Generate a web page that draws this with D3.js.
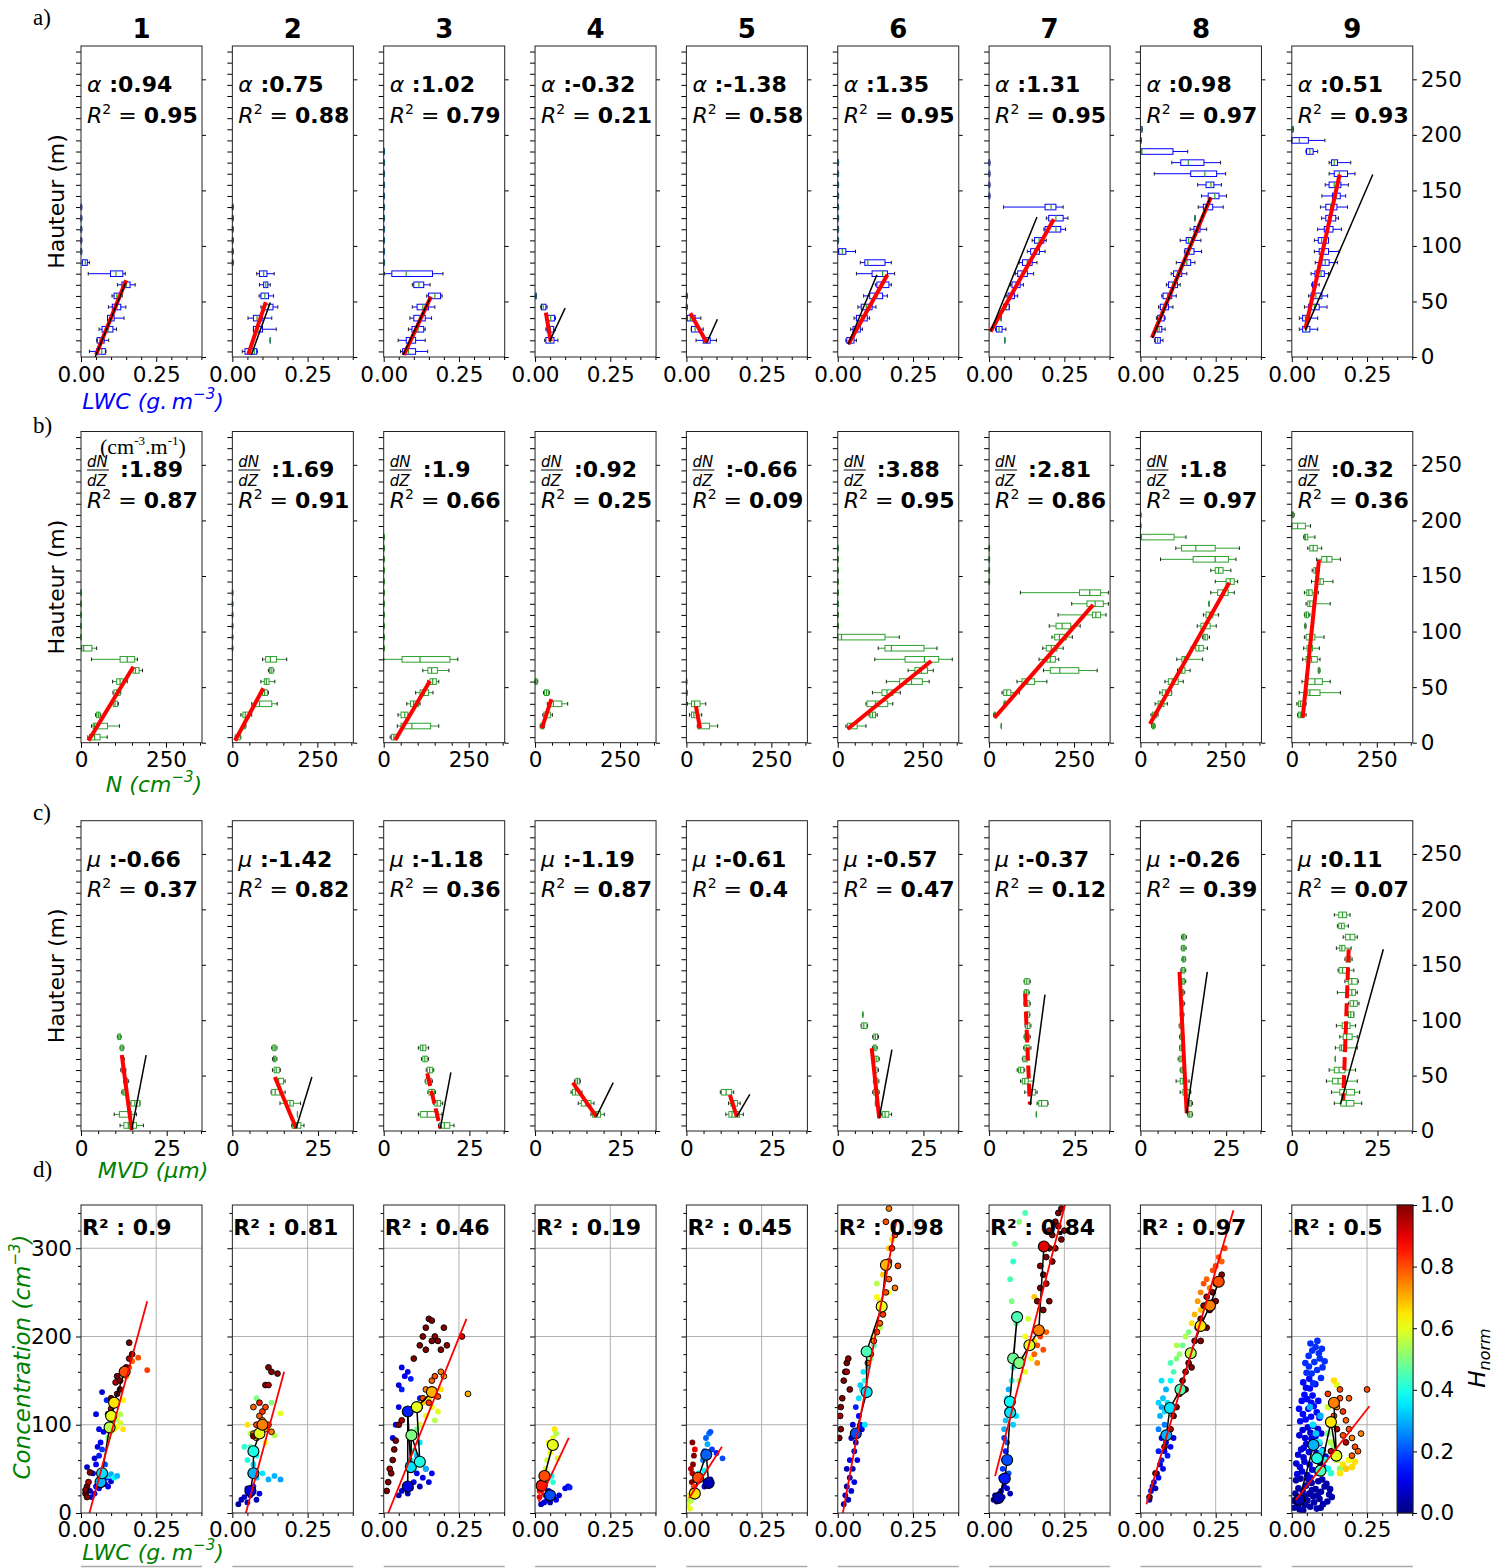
<!DOCTYPE html>
<html><head><meta charset="utf-8">
<script src="https://cdn.jsdelivr.net/npm/d3@7"></script>
<style>body{margin:0;background:#fff}</style>
</head><body><svg id="c" width="1497" height="1568" xmlns="http://www.w3.org/2000/svg"></svg>
<script>
// ---------------- DATA ----------------
const panelLabels = ["1","2","3","4","5","6","7","8","9"];
const lwcAlpha = [0.94,0.75,1.02,-0.32,-1.38,1.35,1.31,0.98,0.51];
const lwcR2 = [0.95,0.88,0.79,0.21,0.58,0.95,0.95,0.97,0.93];
const nSlope = [1.89,1.69,1.9,0.92,-0.66,3.88,2.81,1.8,0.32];
const nR2 = [0.87,0.91,0.66,0.25,0.09,0.95,0.86,0.97,0.36];
const mvdMu = [-0.66,-1.42,-1.18,-1.19,-0.61,-0.57,-0.37,-0.26,0.11];
const mvdR2 = [0.37,0.82,0.36,0.87,0.4,0.47,0.12,0.39,0.07];
const scatR2 = [0.9,0.81,0.46,0.19,0.45,0.98,0.84,0.97,0.5];
const heightTicks = [0,50,100,150,200,250];
const boxPositions = [5,15,25,35,45,55,65,75,85,95,105,115,125,135,145,155,165,175,185,195,205,215,225,235,245,255,265,275];
const lwcTicks = [0,0.25], nTicks = [0,250], mvdTicks = [0,25], concTicks = [0,100,200,300];
const cbTicks = [0,0.2,0.4,0.6,0.8,1.0];

// boxes: [height, whiskerLow, q1, median, q3, whiskerHigh]
const lwcBoxes = [
 [[5,0.028,0.052,0.069,0.081,0.083],[15,0.052,0.054,0.063,0.077,0.092],[25,0.06,0.07,0.09,0.106,0.118],[35,0.088,0.088,0.1,0.11,0.143],[45,0.091,0.104,0.119,0.132,0.149],[55,0.103,0.11,0.119,0.13,0.137],[65,0.121,0.136,0.15,0.163,0.18],[75,0.024,0.098,0.116,0.139,0.147],[85,0.004,0.004,0.014,0.021,0.028],[95,0,0,0.001,0.002,0.003],[105,0,0,0.001,0.002,0.003],[115,0,0,0.001,0.002,0.003],[125,0,0,0.001,0.002,0.003],[135,0,0,0.001,0.002,0.003]],
 [[5,0.033,0.042,0.073,0.081,0.083],[15,0.126,0.126,0.126,0.126,0.126],[25,0.07,0.07,0.085,0.1,0.146],[35,0.052,0.07,0.082,0.099,0.131],[45,0.095,0.106,0.12,0.135,0.151],[55,0.089,0.095,0.108,0.12,0.137],[65,0.09,0.104,0.111,0.118,0.126],[75,0.081,0.09,0.104,0.115,0.139],[85,0,0,0.001,0.002,0.003],[95,0,0,0.001,0.002,0.003],[105,0,0,0.001,0.002,0.003],[115,0,0,0.001,0.002,0.003],[125,0,0,0.001,0.002,0.003],[135,0,0,0.001,0.002,0.003]],
 [[5,0.056,0.063,0.082,0.106,0.146],[15,0.048,0.075,0.09,0.106,0.138],[25,0.082,0.094,0.114,0.133,0.138],[35,0.087,0.1,0.119,0.138,0.159],[45,0.095,0.111,0.13,0.149,0.17],[55,0.143,0.149,0.17,0.189,0.194],[65,0.095,0.1,0.117,0.133,0.154],[75,0.003,0.027,0.075,0.162,0.197],[85,0,0,0.001,0.002,0.003],[95,0,0,0.001,0.002,0.003],[105,0,0,0.001,0.002,0.003],[115,0,0,0.001,0.002,0.003],[125,0,0,0.001,0.002,0.003],[135,0,0,0.001,0.002,0.003],[145,0,0,0.001,0.002,0.003],[155,0,0,0.001,0.002,0.003],[165,0,0,0.001,0.002,0.003],[175,0,0,0.001,0.002,0.003],[185,0,0,0.001,0.002,0.003]],
 [[15,0.032,0.036,0.051,0.063,0.076],[25,0.036,0.04,0.051,0.062,0.068],[35,0.036,0.041,0.052,0.065,0.068],[45,0.019,0.021,0.027,0.036,0.04],[55,0.001,0.002,0.003,0.004,0.005]],
 [[15,0.032,0.056,0.068,0.079,0.1],[25,0.016,0.017,0.029,0.041,0.056],[35,0,0.003,0.013,0.029,0.048],[45,0,0,0.001,0.002,0.003],[55,0,0,0.001,0.002,0.003]],
 [[15,0.027,0.03,0.043,0.054,0.062],[25,0.043,0.051,0.062,0.075,0.082],[35,0.054,0.062,0.079,0.098,0.106],[45,0.067,0.078,0.095,0.114,0.127],[55,0.086,0.106,0.13,0.149,0.165],[65,0.125,0.13,0.149,0.17,0.178],[75,0.062,0.114,0.149,0.165,0.189],[85,0.075,0.09,0.1,0.157,0.178],[95,0.003,0.003,0.015,0.027,0.059],[105,0,0,0.001,0.002,0.003],[115,0,0,0.001,0.002,0.003],[125,0,0,0.001,0.002,0.003],[135,0,0,0.001,0.002,0.003],[145,0,0,0.001,0.002,0.003],[155,0,0,0.001,0.002,0.003],[165,0,0,0.001,0.002,0.003],[175,0,0,0.001,0.002,0.003]],
 [[15,0.052,0.052,0.052,0.052,0.052],[25,0.021,0.024,0.033,0.043,0.056],[35,0.04,0.04,0.04,0.04,0.04],[45,0.048,0.048,0.056,0.067,0.067],[55,0.056,0.063,0.072,0.084,0.095],[65,0.071,0.076,0.09,0.103,0.114],[75,0.087,0.095,0.11,0.127,0.148],[85,0.1,0.111,0.127,0.143,0.159],[95,0.127,0.138,0.152,0.167,0.186],[105,0.143,0.151,0.166,0.182,0.19],[115,0.182,0.186,0.222,0.238,0.254],[125,0.19,0.198,0.222,0.246,0.262],[135,0.048,0.186,0.206,0.222,0.246],[145,0,0,0.001,0.002,0.003],[155,0,0,0.001,0.002,0.003],[165,0,0,0.001,0.002,0.003],[175,0,0,0.001,0.002,0.003]],
 [[15,0.047,0.049,0.057,0.066,0.075],[25,0.049,0.055,0.062,0.071,0.082],[35,0.053,0.057,0.068,0.079,0.082],[45,0.06,0.066,0.078,0.093,0.108],[55,0.071,0.075,0.09,0.104,0.119],[65,0.086,0.093,0.108,0.123,0.132],[75,0.102,0.11,0.123,0.137,0.154],[85,0.119,0.143,0.154,0.167,0.181],[95,0.146,0.148,0.163,0.178,0.203],[105,0.132,0.152,0.16,0.17,0.201],[115,0.165,0.178,0.187,0.198,0.22],[125,0.181,0.181,0.181,0.181,0.181],[135,0.192,0.209,0.222,0.24,0.275],[145,0.203,0.225,0.247,0.261,0.286],[155,0.19,0.218,0.234,0.244,0.269],[165,0.046,0.167,0.214,0.253,0.283],[175,0.104,0.134,0.159,0.211,0.266],[185,0,0.002,0.005,0.108,0.157],[195,0,0,0.001,0.002,0.003],[205,0.002,0.003,0.004,0.005,0.006]],
 [[25,0.025,0.036,0.047,0.06,0.086],[35,0.025,0.036,0.045,0.058,0.086],[45,0.042,0.056,0.075,0.091,0.117],[55,0.056,0.064,0.08,0.1,0.119],[65,0.066,0.069,0.075,0.08,0.091],[75,0.064,0.077,0.097,0.108,0.122],[85,0.078,0.1,0.111,0.124,0.152],[95,0.075,0.091,0.102,0.122,0.157],[105,0.075,0.088,0.099,0.122,0.122],[115,0.086,0.108,0.122,0.137,0.165],[125,0.099,0.113,0.124,0.146,0.155],[135,0.095,0.113,0.129,0.15,0.185],[145,0.1,0.135,0.148,0.161,0.179],[155,0.111,0.124,0.141,0.163,0.188],[165,0.124,0.141,0.158,0.185,0.21],[175,0.124,0.132,0.141,0.152,0.196],[185,0.047,0.049,0.06,0.071,0.086],[195,0,0,0.025,0.055,0.11],[205,0.001,0.002,0.003,0.004,0.005]]
];
const nBoxes = [
 [[5,20,25,40,56,77],[15,31,36,40,78,113],[25,43,46,51,56,58],[35,90,95,100,107,110],[45,94,97,105,115,117],[55,93,105,115,124,136],[65,146,153,160,171,181],[75,31,115,136,158,166],[85,2,2,8,32,46],[95,0,0,0.5,1,1.5],[105,0,0,0.5,1,1.5],[115,0,0,0.5,1,1.5],[125,0,0,0.5,1,1.5],[135,0,0,0.5,1,1.5]],
 [[5,8,10,14,23,25],[15,30,32,35,38,40],[25,25,31,38,51,57],[35,57,67,80,116,132],[45,86,89,95,103,106],[55,84,94,100,108,125],[65,106,109,114,120,122],[75,89,98,112,130,160],[85,0,0,0.5,1,1.5],[95,0,0,0.5,1,1.5],[105,0,0,0.5,1,1.5],[115,0,0,0.5,1,1.5],[125,0,0,0.5,1,1.5],[135,0,0,0.5,1,1.5]],
 [[5,19,23,30,37,42],[15,40,51,83,138,162],[25,42,51,62,71,74],[35,68,79,88,102,107],[45,94,107,119,132,145],[55,130,136,144,155,162],[65,115,130,141,158,192],[75,0,54,107,195,218],[85,0,0,0.5,1,1.5],[95,0,0,0.5,1,1.5],[105,0,0,0.5,1,1.5],[115,0,0,0.5,1,1.5],[125,0,0,0.5,1,1.5],[135,0,0,0.5,1,1.5],[145,0,0,0.5,1,1.5],[155,0,0,0.5,1,1.5],[165,0,0,0.5,1,1.5],[175,0,0,0.5,1,1.5],[185,0,0,0.5,1,1.5]],
 [[15,15,17,20,26,28],[25,23,26,33,45,51],[35,36,45,54,79,96],[45,25,28,34,40,42],[55,0,1,3,6,8]],
 [[15,32,34,40,68,92],[25,9,15,22,32,45],[35,3,15,24,40,57],[45,0,0.5,1,2,3],[55,0,0,0.5,1,1.5]],
 [[15,24,29,37,57,83],[25,92,95,102,111,116],[35,83,86,111,147,162],[45,102,130,145,162,184],[55,143,182,217,249,269],[65,207,227,246,264,281],[75,109,198,255,297,337],[85,119,139,158,254,292],[95,0,0,11,139,181],[105,0,0,0.5,1,1.5],[115,0,0,0.5,1,1.5],[125,0,0,0.5,1,1.5],[135,0,0,0.5,1,1.5],[145,0,0,0.5,1,1.5],[155,0,0,0.5,1,1.5],[165,0,0,0.5,1,1.5],[175,0,0,0.5,1,1.5]],
 [[15,36,36,36,36,36],[25,13,15,17,19,21],[35,44,44,46,48,48],[45,38,43,52,64,89],[55,82,97,114,134,170],[65,160,180,208,264,318],[75,147,170,180,195,205],[85,158,168,183,200,218],[95,185,193,207,227,245],[105,177,197,215,240,268],[115,203,304,314,328,344],[125,243,288,312,336,351],[135,92,266,296,328,351],[145,0,0,0.5,1,1.5],[155,0,0,0.5,1,1.5],[165,0,0,0.5,1,1.5],[175,0,0,0.5,1,1.5]],
 [[15,33,35,38,41,43],[25,31,35,41,48,52],[35,43,52,59,69,79],[45,57,64,74,91,92],[55,72,82,94,111,126],[65,109,114,122,131,146],[75,107,122,129,136,183],[85,149,163,172,185,197],[95,183,185,190,197,203],[105,167,178,190,205,223],[115,185,193,203,213,230],[125,202,202,202,202,202],[135,207,227,243,258,276],[145,220,252,264,276,286],[155,207,220,230,243,266],[165,59,155,220,259,281],[175,104,121,163,220,291],[185,0,0,3,99,134],[195,0,0,0.5,1,1.5],[205,0,0,0.5,1,1.5]],
 [[25,17,19,25,34,42],[35,15,20,26,35,42],[45,22,47,53,83,143],[55,30,47,68,90,113],[65,78,78,80,82,83],[75,32,42,58,75,83],[85,35,45,51,61,81],[95,37,42,53,68,95],[105,38,39,40,41,42],[115,37,39,43,49,53],[125,42,47,53,63,113],[135,37,44,50,60,78],[145,58,75,83,93,121],[155,60,65,70,78,81],[165,73,88,103,118,143],[175,47,53,63,75,88],[185,35,37,40,47,68],[195,0,0,17,40,55],[205,0,0,2,5,7]]
];
const mvdBoxes = [
 [[5,11.4,12.5,13.8,16.2,18.2],[15,9.7,11.2,14,14.8,16.2],[25,14.3,14.6,15.7,17.2,17.2],[35,11.9,12.2,12.5,13,13.3],[45,12.4,12.6,13,13.6,13.9],[55,11.6,11.9,12.3,12.8,13.1],[65,11.9,12,12.2,12.4,12.6],[75,11.4,11.6,12,12.3,12.5],[85,10.6,10.8,11.1,11.5,11.7]],
 [[5,17.3,17.5,18.7,20,20.9],[15,19,19,19,19,19],[25,13.9,16,16.8,17.8,19.9],[35,11.3,11.5,12.5,13.9,15.4],[45,12.6,12.9,13.5,14.9,15.4],[55,11.7,12.2,12.8,13.7,14],[65,11.7,12,12.3,12.7,13],[75,11.5,11.8,12.2,12.7,13]],
 [[5,16,16.3,17.7,19.3,20.5],[15,10.1,10.7,12.7,15.9,17],[25,14.6,14.9,15.6,16.6,17.2],[35,12.9,13.2,14,14.8,15.1],[45,12.1,12.3,13,13.9,14.2],[55,12.4,12.7,13.4,14.2,14.6],[65,11,11.4,12,12.7,13.1],[75,10.1,10.7,11.4,12.3,13.1]],
 [[15,16.3,16.8,17.9,19.1,20.2],[25,12.6,13.5,14.8,16.3,17.2],[35,10.5,10.9,11.8,13,13.7],[45,11.5,11.9,12.4,13,13.2]],
 [[15,11.5,12.4,13.3,15.5,16.6],[25,12.3,13,13.8,14.9,15.7],[35,9.9,10.2,11.6,13.2,13.8]],
 [[15,12.7,13,13.8,14.9,15.7],[25,11,11,11,11,11],[35,10.2,10.5,11,11.8,12.1],[45,10.4,10.6,11.1,11.7,12],[55,10.4,10.6,11,11.5,11.9],[65,10.4,10.7,11.2,11.8,12.1],[75,10.1,10.4,10.8,11.2,11.5],[85,10.2,10.5,11,11.6,11.9],[95,6.8,7,7.6,8.5,8.7],[105,7.3,7.3,7.3,7.3,7.3]],
 [[15,13.8,13.8,13.8,13.8,13.8],[25,14,14.5,15.3,17,17.2],[35,10.4,11.4,12.2,13.5,14],[45,9.2,9.7,10.4,11.4,13],[55,8.2,8.6,9.2,10.1,10.4],[65,9.7,9.9,10.5,11.1,11.4],[75,10.1,10.4,11,11.7,12.2],[85,10.2,10.4,11,11.7,12],[95,10.5,10.7,11.2,11.9,12.2],[105,10.5,10.7,11.2,11.7,11.9],[115,10.2,10.4,11,11.7,12],[125,10.2,10.4,10.9,11.4,11.7],[135,10.2,10.4,11,11.7,12]],
 [[15,13.7,13.9,14.4,15,15.2],[25,13.7,14,14.4,14.9,15.2],[35,11.6,12.4,13.2,14.2,14.7],[45,10.4,11.6,12.4,13.5,14.2],[55,11.6,11.8,12.2,12.7,12.9],[65,11,11.3,11.8,12.2,12.5],[75,11.4,11.5,11.9,12.3,12.5],[85,11.4,11.6,12,12.5,12.7],[95,11.3,11.5,11.9,12.2,12.5],[105,11.6,11.8,12.1,12.5,12.7],[115,11.8,12,12.3,12.6,12.9],[125,11.8,12,12.3,12.6,12.9],[135,11.8,12,12.4,12.9,13.2],[145,11.8,12,12.4,12.9,13.2],[155,12.1,12.3,12.6,13,13.2],[165,11.9,12.1,12.5,12.9,13.3],[175,12,12.2,12.6,13,13.4]],
 [[25,12.4,14.3,15.9,18.1,20.4],[35,11.6,14,15.9,18.3,19.8],[45,10.1,11.9,13.5,15.5,19.1],[55,10.9,12.4,13.8,15.5,18.6],[65,12.7,12.7,12.7,12.7,12.7],[75,12.7,14,14.5,16,19.1],[85,14,15,16,17.6,19.1],[95,13,14.7,15.4,17,18.6],[105,16.5,16.5,17.2,18.1,18.1],[115,16.5,17,18,19.1,19.6],[125,13.3,16.5,17.5,18.6,19.1],[135,15.5,16.5,17.5,19.1,19.4],[145,13.5,13.8,14.8,16.3,18.1],[155,15.5,15.8,16.5,17.2,17.6],[165,13,14,14.6,15.5,17.3],[175,15,15.7,17,18.4,19.1],[185,13.3,13.7,14.5,15.3,16.5],[195,12.4,13.7,14.8,16,17]]
];
// fit lines [x1,h1,x2,h2]
const lwcFit = [[0.05,2,0.15,69],[0.053,2.4,0.111,49.4],[0.067,1.8,0.157,54.4],[0.036,40,0.052,14],[0.013,39.4,0.068,12.9],[0.035,11.4,0.165,74],[0.005,23,0.215,124],[0.038,17.4,0.234,143.8],[0.045,25.3,0.159,164.3]];
const lwcRef = [[0.047,0,0.149,67],[0.063,1.8,0.126,49],[0.064,1.8,0.154,53],[0.048,14,0.1,44],[0.068,12.9,0.103,34],[0.035,11.4,0.13,74],[0.005,23,0.159,126],[0.04,17.4,0.232,143.8],[0.045,24,0.269,164.3]];
const nFit = [[22,1.8,154,68.4],[8,1.8,91,49],[34,2.4,136,55.5],[20,12.9,48,39.3],[28,33,40,12.9],[29,12.3,275,73.5],[16,22.5,306,124],[28,16.8,261,144],[32,22.5,80,164.4]];
const mvdFit = [[11.9,68.5,14.8,1],[12.4,48.7,18.6,2.4],[12.7,52,16.5,2.4],[11,43.6,17.9,12.9],[12.7,32.5,14.7,12.9],[9.9,74.6,12.1,11.5],[10.5,124,11.9,24],[11.4,143.6,13.5,16],[16.6,164,15,28]];
const mvdRef = [[14.8,1,19,68.5],[18.6,2.4,23.2,48.7],[16.5,2.4,19.6,53],[17.9,12.9,22.8,43.6],[14.7,12.9,18.5,33],[12.1,11.5,15.8,73.5],[12,23.4,16.3,123],[13.5,16,19.5,143.6],[14.2,24,26.7,164]];
const mvdDashed = [false,false,true,false,false,false,true,false,true];
const scatFit = [[0.028,0,0.22,240],[0.045,0,0.172,160],[0.015,0,0.275,220],[0.012,13,0.112,85],[0.009,17,0.118,75],[0.017,0,0.194,330],[0.02,42,0.252,349],[0.02,10,0.309,343],[0.014,15,0.258,121]];

// scatter points [LWC, N, Hnorm, blackEdge]
const scat1 = [[0.03,25,0.05],[0.035,18,0.08],[0.045,22,0.1],[0.05,30,0.12],[0.06,28,0.1],[0.07,35,0.15],[0.08,33,0.12],[0.09,30,0.1],[0.1,36,0.08],[0.085,40,0.15],[0.04,45,0.1],[0.05,55,0.12],[0.06,65,0.15],[0.055,75,0.1],[0.065,80,0.12],[0.07,72,0.18],[0.045,62,0.08],[0.06,95,0.1],[0.075,92,0.12],[0.05,112,0.1],[0.07,137,0.08],[0.085,128,0.15],[0.02,52,0.06],[0.08,55,0.2],
 [0.065,45,0.3],[0.08,45,0.32],[0.09,42,0.35],[0.1,44,0.3],[0.11,40,0.38],[0.12,42,0.3],
 [0.09,85,0.5],[0.1,92,0.55],[0.11,95,0.6],[0.12,98,0.62],[0.13,102,0.58],[0.14,95,0.65],[0.12,108,0.6],[0.13,112,0.55],[0.11,105,0.52],[0.14,128,0.63],[0.1,100,0.58],
 [0.17,172,0.78],[0.19,176,0.8],[0.22,162,0.82],[0.15,155,0.75],[0.16,165,0.8],
 [0.015,22,1,1],[0.02,30,1,1],[0.025,35,0.95,1],[0.03,46,1,1],[0.015,26,1,1],[0.02,18,1,1],[0.09,112,1,1],[0.1,118,0.95,1],[0.11,125,1,1],[0.12,135,1,1],[0.13,140,1,1],[0.115,148,0.95,1],[0.12,155,1,1],[0.14,160,1,1],[0.15,165,1,1],[0.16,175,0.95,1],[0.17,180,1,1],[0.16,193,1,1],[0.1,130,1,1],[0.13,150,1,1]];
const scat2 = [[0.02,10,0.02],[0.03,15,0.05],[0.04,18,0.08],[0.05,12,0.05],[0.06,20,0.1],[0.07,25,0.12],[0.08,15,0.05],[0.09,22,0.1],[0.05,28,0.15],[0.07,30,0.15],
 [0.06,45,0.3],[0.08,40,0.32],[0.1,45,0.35],[0.12,38,0.3],[0.14,42,0.3],[0.16,38,0.28],[0.07,55,0.35],[0.05,60,0.4],[0.04,75,0.42],[0.06,75,0.45],[0.08,65,0.38],
 [0.06,90,0.55],[0.09,95,0.6],[0.12,95,0.58],[0.14,88,0.55],[0.16,113,0.6],[0.13,125,0.5],[0.11,80,0.62],[0.05,100,0.65],[0.08,130,0.5],
 [0.07,90,0.75,1],[0.08,100,0.8,1],[0.09,110,0.78,1],[0.1,115,0.82,1],[0.11,120,0.8,1],[0.07,120,0.78,1],[0.09,125,0.85,1],[0.1,105,0.75,1],[0.12,100,0.8,1],[0.08,85,0.7,1],[0.11,95,0.72,1],[0.13,92,0.75,1],
 [0.12,165,1,1],[0.13,160,1,1],[0.15,158,1,1],[0.11,145,1,1],[0.12,145,0.95,1],[0.07,87,1,1]];
const scat3 = [[0.05,20,0.05],[0.06,25,0.08],[0.07,30,0.1],[0.08,22,0.05],[0.09,28,0.08],[0.1,35,0.1],[0.12,30,0.05],[0.13,40,0.1],[0.15,35,0.08],[0.16,45,0.12],[0.11,45,0.1],[0.14,50,0.15],
 [0.03,85,0.1],[0.04,100,0.12],[0.05,120,0.1],[0.06,140,0.15],[0.07,155,0.12],[0.08,160,0.1],[0.09,152,0.15],[0.05,145,0.08],[0.06,165,0.12],[0.12,130,0.15],[0.075,115,0.2],
 [0.08,55,0.35],[0.09,60,0.38],[0.1,70,0.4],[0.11,65,0.32],[0.12,80,0.35],[0.13,55,0.4],[0.14,50,0.3],[0.1,50,0.35],
 [0.1,90,0.55],[0.12,100,0.58],[0.14,110,0.6],[0.16,120,0.62],[0.17,105,0.55],[0.18,115,0.6],[0.15,130,0.65],[0.11,95,0.5],[0.13,125,0.68],[0.19,140,0.65],
 [0.12,120,0.78,1],[0.13,130,0.8,1],[0.14,140,0.75,1],[0.15,125,0.82,1],[0.16,150,0.78,1],[0.17,155,0.8,1],[0.19,160,0.75,1],[0.2,155,0.72,1],[0.28,135,0.7,1],[0.18,132,0.8,1],
 [0.01,25,1,1],[0.015,35,1,1],[0.02,50,0.95,1],[0.03,60,1,1],[0.035,72,1,1],[0.04,82,1,1],[0.05,100,1,1],[0.06,105,0.95,1],[0.025,45,1,1],
 [0.1,175,1,1],[0.12,190,1,1],[0.13,200,1,1],[0.14,210,1,1],[0.15,220,1,1],[0.16,218,1,1],[0.17,200,1,1],[0.18,195,1,1],[0.2,210,1,1],[0.21,190,1,1],[0.19,185,1,1],[0.14,185,1,1],[0.16,195,1,1],[0.26,200,0.9,1]];
const scat4 = [[0.02,10,0.05],[0.03,12,0.08],[0.04,15,0.1],[0.05,12,0.05],[0.06,18,0.1],[0.07,15,0.12],[0.08,20,0.08],[0.035,20,0.15],[0.045,25,0.12],[0.055,22,0.18],[0.1,28,0.12],[0.11,30,0.1],[0.115,29,0.15],
 [0.035,35,0.35],[0.045,40,0.4],[0.055,42,0.38],[0.06,35,0.42],[0.04,45,0.45],
 [0.035,50,0.6],[0.04,60,0.58],[0.05,68,0.62],[0.055,75,0.55],[0.06,85,0.6],[0.065,95,0.65],[0.07,90,0.55],[0.045,80,0.62],[0.075,62,0.58],
 [0.015,25,0.85],[0.02,32,0.8],[0.025,38,0.78],[0.015,18,0.9],[0.03,45,0.75]];
const scat5 = [[0.003,8,0.65],[0.006,12,0.6],[0.009,16,0.68],[0.005,20,0.62],[0.012,5,0.6],[0.015,14,0.55],
 [0.018,35,1],[0.02,45,0.95],[0.022,55,1],[0.025,65,1],[0.02,80,1],[0.028,72,0.9],[0.015,50,0.95],
 [0.02,25,0.8],[0.03,20,0.75],[0.025,30,0.82],
 [0.06,70,0.2],[0.065,85,0.22],[0.075,90,0.25],[0.08,92,0.2],[0.085,72,0.18],[0.1,68,0.15],[0.12,62,0.2],[0.055,60,0.25],[0.07,78,0.3],
 [0.06,30,0.05],[0.07,35,0.08],[0.075,32,0.05],[0.08,38,0.1],
 [0.04,45,0.35],[0.05,40,0.4],[0.06,48,0.38]];
const scat6 = [[0.02,10,0.03],[0.025,20,0.05],[0.03,30,0.04],[0.035,15,0.06],[0.04,40,0.05],[0.045,25,0.08],[0.05,50,0.05],[0.04,60,0.1],[0.055,70,0.08],[0.06,80,0.05],[0.065,90,0.1],[0.05,100,0.08],[0.07,110,0.12],[0.06,120,0.15],[0.075,100,0.1],[0.08,95,0.12],[0.045,85,0.07],[0.03,50,0.06],[0.055,35,0.1],[0.065,60,0.09],
 [0.07,130,0.35],[0.08,140,0.38],[0.09,150,0.4],[0.085,160,0.35],[0.1,165,0.4],[0.075,145,0.32],[0.095,135,0.42],[0.09,100,0.35],
 [0.1,180,0.5],[0.12,200,0.55],[0.14,210,0.55],[0.15,230,0.5],[0.13,260,0.55],[0.17,250,0.6],[0.12,190,0.45],[0.11,175,0.5],
 [0.14,240,0.65],[0.15,270,0.68],[0.16,280,0.65],[0.17,300,0.68],[0.13,245,0.62],[0.18,310,0.66],
 [0.005,85,1,1],[0.01,95,1,1],[0.008,110,0.95,1],[0.01,120,1,1],[0.02,150,1,1],[0.025,160,1,1],[0.03,170,1,1],[0.035,175,1,1],[0.03,160,0.95,1],[0.04,140,1,1],[0.015,130,1,1],
 [0.1,170,0.78,1],[0.11,180,0.8,1],[0.12,195,0.75,1],[0.13,205,0.8,1],[0.14,215,0.78,1],[0.15,225,0.82,1],[0.16,250,0.8,1],[0.17,265,0.78,1],[0.17,285,0.8,1],[0.18,300,0.82,1],[0.19,315,0.78,1],[0.16,330,0.8,1],[0.17,345,0.75,1],[0.2,280,0.8,1],[0.19,255,0.76,1]];
const scat7 = [[0.015,15,0.02],[0.02,20,0.03],[0.025,13,0.05],[0.03,18,0.04],[0.035,22,0.06],[0.04,25,0.05],[0.045,18,0.08],[0.05,30,0.1],[0.06,28,0.06],[0.07,22,0.05],
 [0.04,40,0.15],[0.045,50,0.18],[0.05,60,0.2],[0.055,70,0.15],[0.06,80,0.22],[0.05,85,0.18],[0.065,45,0.2],
 [0.05,95,0.3],[0.055,105,0.32],[0.06,115,0.35],[0.07,125,0.38],[0.065,140,0.3],[0.075,150,0.4],[0.08,165,0.42],[0.06,130,0.36],[0.08,100,0.33],[0.09,110,0.35],
 [0.07,265,0.45],[0.08,285,0.42],[0.085,305,0.48],[0.1,330,0.5],[0.12,340,0.45],[0.075,240,0.5],[0.09,215,0.48],
 [0.1,150,0.55],[0.12,160,0.6],[0.14,175,0.62],[0.15,195,0.65],[0.16,210,0.6],[0.13,220,0.58],[0.17,230,0.65],[0.15,245,0.68],[0.11,175,0.55],[0.12,200,0.62],
 [0.15,180,0.78],[0.16,190,0.8],[0.17,200,0.82],[0.18,185,0.8],[0.19,205,0.78],[0.16,170,0.75],
 [0.16,240,1,1],[0.17,255,1,1],[0.18,270,1,1],[0.19,290,1,1],[0.2,300,1,1],[0.21,315,1,1],[0.22,330,1,1],[0.23,340,1,1],[0.24,345,1,1],[0.25,320,1,1],[0.2,320,0.95,1],[0.22,300,1,1],[0.24,310,1,1],[0.19,260,0.95,1],[0.17,280,1,1],[0.21,285,1,1],[0.2,240,1,1],[0.23,325,0.95,1],[0.18,230,1,1]];
const scat8 = [[0.03,15,0.05],[0.035,25,0.08],[0.04,30,0.06],[0.045,35,0.1],[0.05,28,0.05],[0.055,45,0.08],[0.06,40,0.12],[0.065,55,0.1],[0.07,60,0.15],[0.075,50,0.1],[0.08,70,0.12],[0.085,80,0.08],[0.09,65,0.15],[0.1,75,0.12],[0.11,85,0.1],[0.06,70,0.15],[0.07,85,0.12],
 [0.06,95,0.25],[0.065,110,0.3],[0.07,120,0.28],[0.075,130,0.32],[0.08,115,0.35],[0.085,140,0.3],[0.09,125,0.35],[0.1,150,0.38],[0.08,100,0.25],[0.06,125,0.33],[0.07,150,0.35],
 [0.11,160,0.45],[0.12,175,0.5],[0.13,180,0.52],[0.14,190,0.48],[0.15,200,0.55],[0.16,205,0.5],[0.12,190,0.55],[0.1,170,0.45],
 [0.17,215,0.65],[0.18,225,0.7],[0.19,240,0.72],[0.2,250,0.75],[0.21,260,0.8],[0.22,265,0.78],[0.24,275,0.8],[0.25,280,0.82],[0.26,290,0.8],[0.27,285,0.78],[0.23,255,0.75],[0.28,300,0.82],[0.2,230,0.68],
 [0.03,18,1,1],[0.05,45,1,1],[0.08,75,1,1],[0.1,95,0.95,1],[0.11,110,1,1],[0.12,120,1,1],[0.13,135,1,1],[0.14,150,1,1],[0.15,160,0.95,1],[0.16,170,1,1],[0.17,180,1,1],[0.18,195,1,1],[0.19,210,1,1],[0.2,220,1,1],[0.21,235,1,1],[0.22,245,0.95,1],[0.23,230,1,1],[0.24,250,1,1],[0.25,260,1,1],[0.26,265,1,1],[0.27,270,1,1],[0.2,195,1,1],[0.17,165,1,1],[0.15,140,1,1],[0.22,210,1,1],[0.25,240,1,1]];
// panel 9 dense blue cloud, [LWC, N] by level group
const scat9CloudLow = [[0.008,6],[0.017,12],[0.026,4],[0.031,17],[0.043,9],[0.052,14],[0.061,7],[0.074,12],[0.083,5],[0.092,16],[0.104,10],[0.118,13],[0.012,22],[0.022,28],[0.036,25],[0.047,31],[0.058,22],[0.066,34],[0.079,27],[0.088,36],[0.097,24],[0.109,30],[0.124,21],[0.133,18],[0.014,37],[0.029,39],[0.055,38],[0.071,19],[0.101,38],[0.115,33],[0.005,14],[0.021,8],[0.038,3],[0.067,26],[0.086,20],[0.127,27],[0.045,19],[0.096,6]];
const scat9CloudMid = [[0.018,44],[0.027,52],[0.034,47],[0.042,58],[0.051,43],[0.059,55],[0.068,49],[0.077,61],[0.086,46],[0.094,57],[0.021,66],[0.031,72],[0.039,63],[0.048,78],[0.057,69],[0.065,84],[0.073,74],[0.082,68],[0.091,79],[0.025,88],[0.036,94],[0.044,85],[0.053,97],[0.062,91],[0.071,99],[0.079,87],[0.105,52],[0.112,64],[0.098,90],[0.015,56],[0.062,40],[0.087,95],[0.04,74],[0.103,71]];
const scat9CloudHigh = [[0.028,104],[0.037,112],[0.046,106],[0.055,118],[0.064,109],[0.073,121],[0.083,114],[0.033,127],[0.042,134],[0.051,129],[0.06,141],[0.069,133],[0.078,146],[0.088,127],[0.038,148],[0.047,142],[0.058,152],[0.092,108],[0.024,118],[0.065,125]];
const scat9CloudTop = [[0.049,159],[0.057,166],[0.066,158],[0.075,171],[0.084,162],[0.093,175],[0.102,165],[0.056,178],[0.068,184],[0.079,188],[0.09,181],[0.1,186],[0.109,172],[0.062,192],[0.085,195],[0.071,147],[0.097,153],[0.045,170]];
const scat9CloudHnorm = [0.04,0.09,0.13,0.17];
const scat9 = [[0.06,120,0.3],[0.07,100,0.35],[0.08,90,0.32],[0.09,80,0.38],[0.1,70,0.35],[0.11,60,0.4],[0.12,50,0.38],[0.13,45,0.42],[0.095,110,0.3],
 [0.12,90,0.5],[0.13,80,0.55],[0.14,75,0.52],[0.15,60,0.55],[0.16,50,0.5],[0.14,100,0.55],[0.12,120,0.58],[0.15,145,0.6],
 [0.17,55,0.65],[0.18,50,0.68],[0.19,60,0.62],[0.2,52,0.66],[0.21,58,0.65],[0.16,45,0.65],[0.14,150,0.65],
 [0.13,100,0.78,1],[0.14,110,0.8,1],[0.15,120,0.75,1],[0.16,130,0.8,1],[0.17,115,0.82,1],[0.18,105,0.78,1],[0.19,95,0.8,1],[0.2,85,0.75,1],[0.21,75,0.8,1],[0.22,70,0.78,1],[0.23,90,0.75,1],[0.16,140,0.8,1],[0.19,130,0.78,1],[0.25,140,0.8,1],[0.12,135,0.82,1],[0.17,88,0.8,1],[0.2,65,0.78,1],[0.15,95,0.95,1],[0.18,80,0.95,1],[0.13,70,0.95,1]];
// mean profile (large circles) [LWC, N, Hnorm]
const scatMean = [
 [[0.065,35,0.3],[0.07,45,0.35],[0.095,97,0.55],[0.1,110,0.6],[0.11,125,0.65],[0.145,160,0.8]],
 [[0.06,25,0.1],[0.07,45,0.3],[0.07,70,0.4],[0.09,90,0.6],[0.1,100,0.75]],
 [[0.08,30,0.1],[0.08,115,0.15],[0.09,52,0.35],[0.092,88,0.5],[0.12,58,0.4],[0.11,120,0.6],[0.16,137,0.7]],
 [[0.05,20,0.2],[0.022,31,0.85],[0.031,42,0.8],[0.059,77,0.6]],
 [[0.028,22,0.65],[0.039,40,0.8],[0.066,66,0.22],[0.074,34,0.05]],
 [[0.06,90,0.2],[0.096,137,0.35],[0.096,183,0.45],[0.146,234,0.6],[0.16,281,0.7]],
 [[0.031,17,0.05],[0.052,39,0.15],[0.06,60,0.2],[0.07,114,0.35],[0.069,126,0.38],[0.093,222,0.45],[0.08,175,0.48],[0.1,170,0.5],[0.134,190,0.6],[0.165,207,0.75],[0.182,302,0.9]],
 [[0.086,88,0.3],[0.098,119,0.35],[0.133,140,0.45],[0.167,181,0.55],[0.2,212,0.65],[0.231,235,0.75],[0.26,262,0.8]],
 [[0.025,15,0.05],[0.072,77,0.3],[0.084,62,0.4],[0.095,48,0.45],[0.13,103,0.65],[0.148,65,0.6],[0.14,125,0.75]]
];

// ---------------- DRAWING ----------------
const svg = d3.select("#c");
const FONT = "DejaVu Sans, sans-serif";
const SERIF = "Liberation Serif, DejaVu Serif, serif";
const panelW = 121;
const colX = d3.scaleLinear().domain([0,8]).range([81,1291.8]);
const jet = t => { const c = v => Math.round(255*Math.max(0,Math.min(1,v)));
  return `rgb(${c(1.5-Math.abs(4*t-3))},${c(1.5-Math.abs(4*t-2))},${c(1.5-Math.abs(4*t-1))})`; };
const fmtNum = v => String(v);

function cleanAxis(g, fs){
  g.select(".domain").remove();
  g.attr("font-size", fs).attr("font-family", FONT);
  g.selectAll("line").attr("stroke","#000");
  g.selectAll("text").attr("fill","#000");
}

const boxRows = [
 {top:46, bottom:357, xmax:0.402, major:lwcTicks, minor:[0.05,0.1,0.15,0.2,0.3,0.35,0.4], fmt:d3.format(".2f"),
  boxes:lwcBoxes, col:"#0000ff", med:"#2ca02c", red:lwcFit, black:lwcRef, coef:lwcAlpha, r2:lwcR2, sym:"α"},
 {top:431.5, bottom:742.7, xmax:356, major:nTicks, minor:[50,100,150,200,300,350], fmt:d3.format("d"),
  boxes:nBoxes, col:"#2ca02c", med:"#2ca02c", red:nFit, black:null, coef:nSlope, r2:nR2, sym:"frac"},
 {top:820.7, bottom:1131, xmax:35.3, major:mvdTicks, minor:[5,10,15,20,30,35], fmt:d3.format("d"),
  boxes:mvdBoxes, col:"#2ca02c", med:"#2ca02c", red:mvdFit, black:mvdRef, coef:mvdMu, r2:mvdR2, sym:"μ", dashed:mvdDashed}
];

boxRows.forEach((R, ri) => {
  const y = d3.scaleLinear().domain([0,280]).range([R.bottom, R.top]);
  d3.range(9).forEach(i => {
    const x0 = colX(i);
    const x = d3.scaleLinear().domain([0,R.xmax]).range([x0, x0+panelW]);
    const g = svg.append("g");
    g.append("g").attr("transform",`translate(0,${R.bottom})`)
      .call(d3.axisBottom(x).tickValues(R.minor).tickSize(3).tickFormat("")).call(a=>cleanAxis(a,21.5));
    g.append("g").attr("transform",`translate(0,${R.bottom})`)
      .call(d3.axisBottom(x).tickValues(R.major).tickSize(5).tickPadding(4.5).tickFormat(R.fmt)).call(a=>cleanAxis(a,21.5));
    g.append("g").attr("transform",`translate(${x0},0)`)
      .call(d3.axisLeft(y).tickValues(boxPositions).tickSize(5).tickFormat("")).call(a=>cleanAxis(a,21.5));
    g.append("g").attr("transform",`translate(${x0+panelW},0)`)
      .call(d3.axisRight(y).tickValues(heightTicks).tickSize(4).tickPadding(4).tickFormat(i===8? d3.format("d") : "")).call(a=>cleanAxis(a,21.5));
    const bh = 5.6, ch = 3.6;
    const bx = g.append("g").selectAll("g").data(R.boxes[i]).join("g");
    bx.append("line").attr("x1",d=>x(d[1])).attr("x2",d=>x(d[2])).attr("y1",d=>y(d[0])).attr("y2",d=>y(d[0])).attr("stroke",R.col).attr("stroke-width",1);
    bx.append("line").attr("x1",d=>x(d[4])).attr("x2",d=>x(d[5])).attr("y1",d=>y(d[0])).attr("y2",d=>y(d[0])).attr("stroke",R.col).attr("stroke-width",1);
    bx.append("line").attr("x1",d=>x(d[1])).attr("x2",d=>x(d[1])).attr("y1",d=>y(d[0])-ch/2).attr("y2",d=>y(d[0])+ch/2).attr("stroke","#222").attr("stroke-width",1);
    bx.append("line").attr("x1",d=>x(d[5])).attr("x2",d=>x(d[5])).attr("y1",d=>y(d[0])-ch/2).attr("y2",d=>y(d[0])+ch/2).attr("stroke","#222").attr("stroke-width",1);
    bx.append("rect").attr("x",d=>x(d[2])).attr("width",d=>Math.max(0.01,x(d[4])-x(d[2]))).attr("y",d=>y(d[0])-bh/2).attr("height",bh)
      .attr("fill","none").attr("stroke",R.col).attr("stroke-width",1);
    bx.append("line").attr("x1",d=>x(d[3])).attr("x2",d=>x(d[3])).attr("y1",d=>y(d[0])-bh/2).attr("y2",d=>y(d[0])+bh/2).attr("stroke",R.med).attr("stroke-width",1.2);
    const ln = R.red[i];
    g.append("line").attr("x1",x(ln[0])).attr("y1",y(ln[1])).attr("x2",x(ln[2])).attr("y2",y(ln[3]))
      .attr("stroke","#ff0000").attr("stroke-width",4).attr("stroke-dasharray", R.dashed && R.dashed[i] ? "13,5" : null);
    if (R.black){
      const b = R.black[i];
      g.append("line").attr("x1",x(b[0])).attr("y1",y(b[1])).attr("x2",x(b[2])).attr("y2",y(b[3]))
        .attr("stroke","#000").attr("stroke-width",1.5);
    }
    g.append("rect").attr("x",x0).attr("y",R.top).attr("width",panelW).attr("height",R.bottom-R.top)
      .attr("fill","none").attr("stroke","#222").attr("stroke-width",1);
    const ax = x0+6;
    if (R.sym === "frac"){
      g.append("text").attr("x",ax).attr("y",R.top+35).attr("font-family",FONT).attr("font-size",15).attr("font-style","italic").text("dN");
      g.append("line").attr("x1",ax).attr("x2",ax+22).attr("y1",R.top+38.5).attr("y2",R.top+38.5).attr("stroke","#000").attr("stroke-width",1);
      g.append("text").attr("x",ax).attr("y",R.top+54.5).attr("font-family",FONT).attr("font-size",15).attr("font-style","italic").text("dZ");
      g.append("text").attr("x",ax+33).attr("y",R.top+45).attr("font-family",FONT).attr("font-size",22).attr("font-weight","bold").text(":"+fmtNum(R.coef[i]));
    } else {
      const t = g.append("text").attr("x",ax).attr("y",R.top+46).attr("font-family",FONT).attr("font-size",22);
      t.append("tspan").attr("font-style","italic").text(R.sym);
      t.append("tspan").attr("font-weight","bold").text(" :"+fmtNum(R.coef[i]));
    }
    const t2 = g.append("text").attr("x",ax).attr("y",R.top+76.5).attr("font-family",FONT).attr("font-size",22);
    t2.append("tspan").attr("font-style","italic").text("R");
    t2.append("tspan").attr("font-size",14).attr("dy",-9).text("2");
    t2.append("tspan").attr("dy",9).text(" = ");
    t2.append("tspan").attr("font-weight","bold").text(fmtNum(R.r2[i]));
  });
  const cy = (R.top+R.bottom)/2;
  svg.append("text").attr("transform",`translate(64,${cy}) rotate(-90)`).attr("text-anchor","middle")
    .attr("font-family",FONT).attr("font-size",22).text("Hauteur (m)");
});

svg.append("g").selectAll("text").data(panelLabels).join("text")
  .attr("x",(d,i)=>colX(i)+panelW/2).attr("y",38).attr("text-anchor","middle")
  .attr("font-family",FONT).attr("font-size",26).attr("font-weight","bold").text(d=>d);

[["a)",25],["b)",433],["c)",820],["d)",1177]].forEach(([t,yy])=>{
  svg.append("text").attr("x",33).attr("y",yy).attr("font-family",SERIF).attr("font-size",23).text(t);
});

{
  const t = svg.append("text").attr("x",100).attr("y",454).attr("font-family",SERIF).attr("font-size",22);
  t.append("tspan").text("(cm");
  t.append("tspan").attr("font-size",13).attr("dy",-9).text("-3");
  t.append("tspan").attr("dy",9).text(".m");
  t.append("tspan").attr("font-size",13).attr("dy",-9).text("-1");
  t.append("tspan").attr("dy",9).text(")");
}

function mathLabel(x, y, color, parts){
  const t = svg.append("text").attr("x",x).attr("y",y).attr("font-family",FONT).attr("font-size",22)
    .attr("fill",color).attr("text-anchor","middle");
  parts.forEach(p=>{
    const s = t.append("tspan").text(p[0]);
    if (p[1]==="i") s.attr("font-style","italic");
    if (p[1]==="sup") s.attr("font-style","italic").attr("font-size",15).attr("dy",-10);
    if (p[2]) s.attr("dy",p[2]);
  });
  return t;
}
mathLabel(153,409,"#0000ff",[["LWC (g.\u2009","i"],["m","i"],["−3","sup"],[")","i",10]]);
mathLabel(154,792,"#008000",[["N  (","i"],["cm","i"],["−3","sup"],[")","i",10]]);
mathLabel(153,1178,"#008000",[["MVD (μm)","i"]]);
mathLabel(153,1560,"#008000",[["LWC (g.\u2009","i"],["m","i"],["−3","sup"],[")","i",10]]);
{
  const t = svg.append("text").attr("transform","translate(30,1357) rotate(-90)").attr("text-anchor","middle")
    .attr("font-family",FONT).attr("font-size",23).attr("fill","#008000").attr("font-style","italic");
  t.append("tspan").text("Concentration  (cm");
  t.append("tspan").attr("font-size",15).attr("dy",-10).text("−3");
  t.append("tspan").attr("dy",10).text(")");
}

// ---------------- ROW d: scatter ----------------
const D = {top:1205, bottom:1513};
const yD = d3.scaleLinear().domain([0,349]).range([D.bottom, D.top]);
const cloud9 = [scat9CloudLow, scat9CloudMid, scat9CloudHigh, scat9CloudTop]
  .flatMap((grp,k)=>grp.map(p=>[p[0],p[1],scat9CloudHnorm[k]]));
const scatPts = [scat1,scat2,scat3,scat4,scat5,scat6,scat7,scat8,cloud9.concat(scat9)];
const defs = svg.append("defs");
d3.range(9).forEach(i=>{
  const x0 = colX(i);
  const x = d3.scaleLinear().domain([0,0.402]).range([x0, x0+panelW]);
  defs.append("clipPath").attr("id","clip"+i).append("rect").attr("x",x0).attr("y",D.top).attr("width",panelW).attr("height",D.bottom-D.top);
  const g = svg.append("g");
  g.append("g").selectAll("line").data([100,200,300]).join("line")
    .attr("x1",x0).attr("x2",x0+panelW).attr("y1",d=>yD(d)).attr("y2",d=>yD(d)).attr("stroke","#b0b0b0").attr("stroke-width",1);
  g.append("line").attr("x1",x(0.25)).attr("x2",x(0.25)).attr("y1",D.top).attr("y2",D.bottom).attr("stroke","#b0b0b0").attr("stroke-width",1);
  g.append("g").attr("transform",`translate(0,${D.bottom})`)
    .call(d3.axisBottom(x).tickValues([0.05,0.1,0.15,0.2,0.3,0.35,0.4]).tickSize(3).tickFormat("")).call(a=>cleanAxis(a,21.5));
  g.append("g").attr("transform",`translate(0,${D.bottom})`)
    .call(d3.axisBottom(x).tickValues(lwcTicks).tickSize(5).tickPadding(4).tickFormat(d3.format(".2f"))).call(a=>cleanAxis(a,21.5));
  g.append("g").attr("transform",`translate(${x0},0)`)
    .call(d3.axisLeft(yD).tickValues([20,40,60,80,120,140,160,180,220,240,260,280,320,340]).tickSize(3).tickFormat("")).call(a=>cleanAxis(a,21.5));
  g.append("g").attr("transform",`translate(${x0},0)`)
    .call(d3.axisLeft(yD).tickValues(concTicks).tickSize(5).tickPadding(4).tickFormat(i===0? d3.format("d"):"")).call(a=>cleanAxis(a,21.5));
  const pg = g.append("g").attr("clip-path",`url(#clip${i})`);
  const pts = scatPts[i];
  pg.selectAll("circle.p").data(pts.filter(p=>!p[3])).join("circle").attr("class","p")
    .attr("cx",d=>x(d[0])).attr("cy",d=>yD(d[1])).attr("r",i===8?3.3:2.9).attr("fill",d=>jet(d[2]));
  pg.selectAll("circle.e").data(pts.filter(p=>p[3])).join("circle").attr("class","e")
    .attr("cx",d=>x(d[0])).attr("cy",d=>yD(d[1])).attr("r",2.9).attr("fill",d=>jet(d[2])).attr("stroke","#000").attr("stroke-width",0.9);
  pg.append("path").datum(scatMean[i]).attr("d",d3.line().x(d=>x(d[0])).y(d=>yD(d[1])))
    .attr("fill","none").attr("stroke","#000").attr("stroke-width",1.5);
  pg.selectAll("circle.m").data(scatMean[i]).join("circle").attr("class","m")
    .attr("cx",d=>x(d[0])).attr("cy",d=>yD(d[1])).attr("r",5.5).attr("fill",d=>jet(d[2])).attr("stroke","#000").attr("stroke-width",1.1);
  const f = scatFit[i];
  pg.append("line").attr("x1",x(f[0])).attr("y1",yD(f[1])).attr("x2",x(f[2])).attr("y2",yD(f[3]))
    .attr("stroke","#ff0000").attr("stroke-width",1.8);
  g.append("rect").attr("x",x0).attr("y",D.top).attr("width",panelW).attr("height",D.bottom-D.top)
    .attr("fill","none").attr("stroke","#222").attr("stroke-width",1);
  g.append("text").attr("x",x0+1).attr("y",D.top+30).attr("font-family",FONT).attr("font-size",22).attr("font-weight","bold")
    .text("R² : "+fmtNum(scatR2[i]));
  g.append("line").attr("x1",x0).attr("x2",x0+panelW).attr("y1",1566.5).attr("y2",1566.5).attr("stroke","#aaa").attr("stroke-width",1.5);
});

{
  const cbx = 1397, cbw = 16;
  const grad = defs.append("linearGradient").attr("id","jetgrad").attr("x1","0").attr("y1","1").attr("x2","0").attr("y2","0");
  d3.range(0,1.0001,0.05).forEach(t=>grad.append("stop").attr("offset",t).attr("stop-color",jet(t)));
  svg.append("rect").attr("x",cbx).attr("y",D.top).attr("width",cbw).attr("height",D.bottom-D.top).attr("fill","url(#jetgrad)");
  svg.append("rect").attr("x",cbx).attr("y",D.top).attr("width",cbw).attr("height",D.bottom-D.top).attr("fill","none").attr("stroke","#222");
  const cbScale = d3.scaleLinear().domain([0,1]).range([D.bottom, D.top]);
  svg.append("g").attr("transform",`translate(${cbx+cbw},0)`)
    .call(d3.axisRight(cbScale).tickValues(cbTicks).tickSize(4).tickPadding(3).tickFormat(d3.format(".1f"))).call(a=>cleanAxis(a,21.5));
  const t = svg.append("text").attr("transform","translate(1485,1358) rotate(-90)").attr("text-anchor","middle")
    .attr("font-family",FONT).attr("font-size",23).attr("font-style","italic");
  t.append("tspan").text("H");
  t.append("tspan").attr("font-size",16).attr("dy",5).text("norm");
}
</script></body></html>
